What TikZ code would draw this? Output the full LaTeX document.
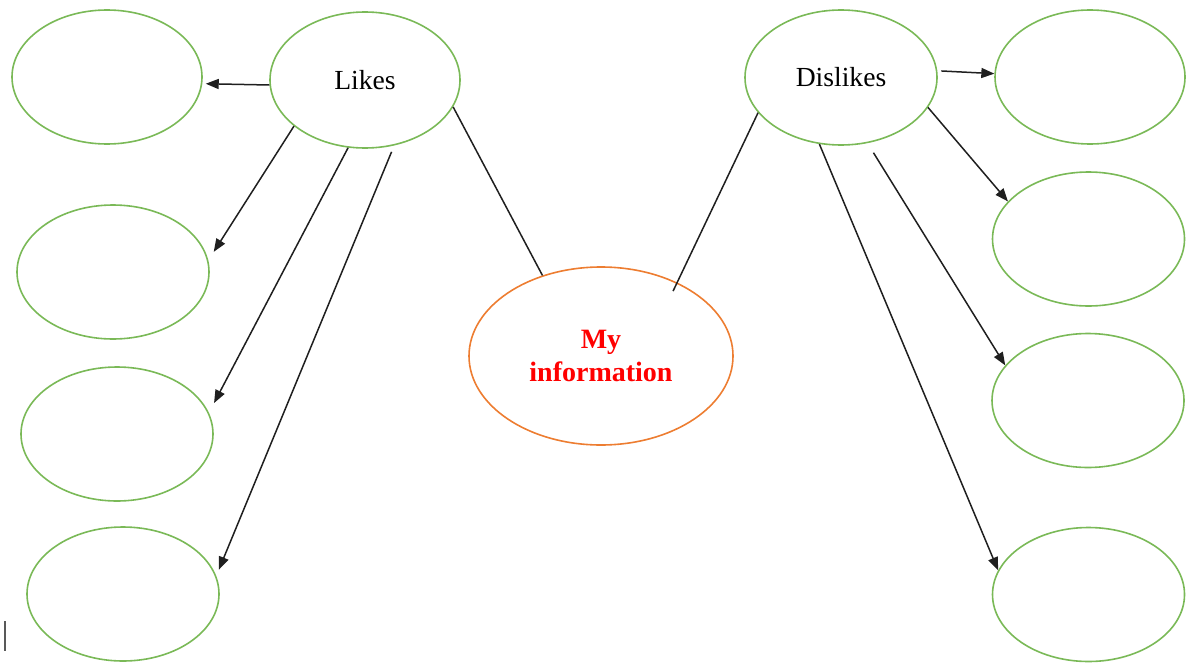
\documentclass[tikz,border=0pt]{standalone}
\usepackage{fontspec}
\setmainfont{Liberation Serif}
\usetikzlibrary{shapes.geometric,arrows.meta}
\definecolor{wgreen}{HTML}{7AB957}
\definecolor{worange}{HTML}{ED7D31}
\begin{document}
\begin{tikzpicture}[x=0.5pt,y=-0.5pt,
  bubble/.style={ellipse, draw=wgreen, line width=0.8pt, inner sep=0pt,
    minimum width=96pt, minimum height=67pt,
    font=\fontsize{13.8}{16.5}\selectfont},
  infobubble/.style={ellipse, draw=worange, line width=0.8pt, inner sep=0pt,
    minimum width=132pt, minimum height=89pt, align=center, text=red,
    font=\fontsize{14}{16.5}\selectfont\bfseries},
  conn/.style={draw=black!88, line width=0.75pt},
  arr/.style={conn, -{Triangle[length=6.5pt,width=5pt]}}]
\useasboundingbox (0,0) rectangle (1198,664);
% left column
\node[bubble, minimum width=95pt] (l1) at (107,77) {};
\node[bubble] (l2) at (113,272) {};
\node[bubble] (l3) at (117,434) {};
\node[bubble] (l4) at (123,594) {};
\node[bubble, minimum width=95pt, minimum height=68pt] (likes) at (365,80) {Likes};
% centre
\node[infobubble] (info) at (601,356) {My\\information};
% right
\node[bubble, minimum height=67.5pt] (dis) at (841,77.5) {Dislikes};
\node[bubble, minimum width=95pt] (r1) at (1090,77) {};
\node[bubble] (r2) at (1088.5,239) {};
\node[bubble] (r3) at (1088,400.5) {};
\node[bubble] (r4) at (1088.5,594.5) {};
% connectors
\draw[arr, shorten >=1.7pt] (likes.183) -- (l1.-4);
\draw[arr, shorten >=5pt] (likes.213) -- (l2.7);
\draw[arr, shorten >=5.5pt] (likes.256) -- (l3.13);
\draw[arr, shorten <=3.4pt, shorten >=3.3pt] (likes.294) -- (l4.11);
\draw[conn] (likes.-17) -- (info.126);
\draw[conn, shorten >=-4.8pt] (dis.203) -- (info.44);
\draw[arr, shorten <=2pt] (dis.4) -- (r1.178);
\draw[arr] (dis.-19) -- (r2.155);
\draw[arr, shorten <=5.6pt] (dis.-68) -- (r3.157);
\draw[arr] (dis.252) -- (r4.165);
% text cursor mark
\draw[black!65, line width=0.65pt] (5,621) -- (5,651);
\end{tikzpicture}
\end{document}
